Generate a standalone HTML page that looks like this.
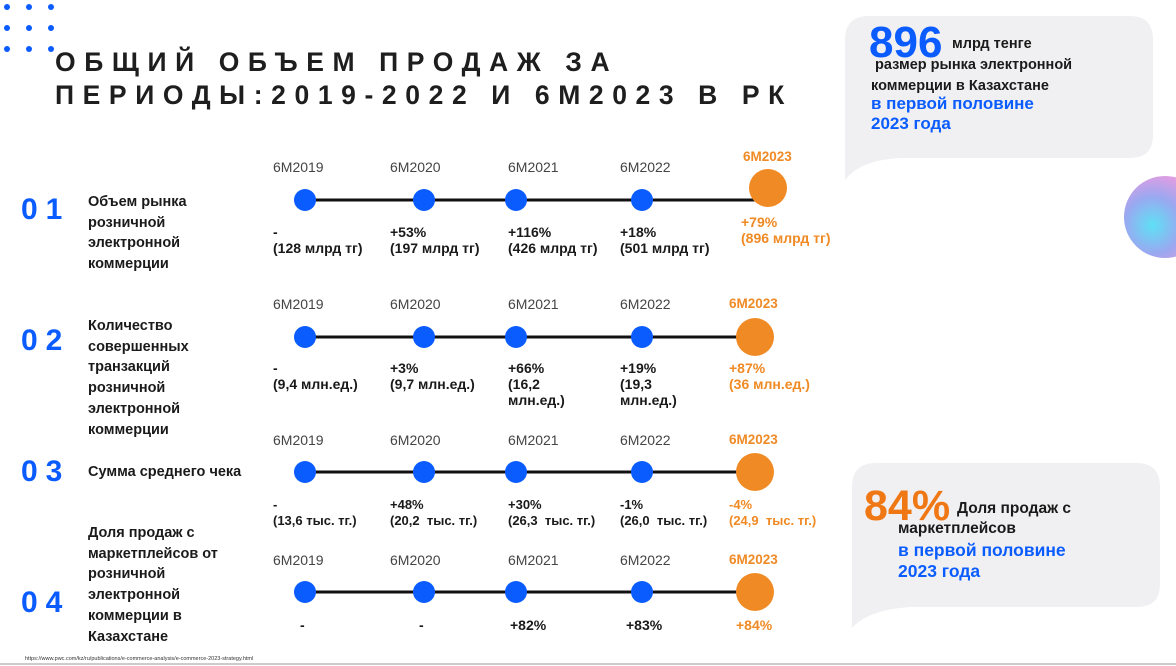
<!DOCTYPE html>
<html><head><meta charset="utf-8"><style>
*{margin:0;padding:0;box-sizing:border-box}
body{width:1176px;height:666px;background:#fff;position:relative;overflow:hidden;font-family:"Liberation Sans","DejaVu Sans",sans-serif}
.a{position:absolute;white-space:nowrap}
.b{font-weight:bold;color:#1a1a1a;font-size:14.5px}
.yr{font-size:14px;color:#444}
.yo{font-size:13.5px;color:#f08a24;font-weight:bold}
.v{font-size:14px;font-weight:bold;color:#1a1a1a;line-height:16px}
.vo{font-size:14px;font-weight:bold;color:#f08a24;line-height:16px}
.num{font-size:30px;font-weight:bold;color:#0a5cff;letter-spacing:8px}
.lbl{font-size:14.5px;font-weight:bold;color:#1a1a1a;line-height:20.7px}
.dot{position:absolute;width:6px;height:6px;border-radius:50%;background:#0a5cff}
</style></head><body>
<div class="dot" style="left:4px;top:4px"></div><div class="dot" style="left:26px;top:4px"></div><div class="dot" style="left:48px;top:4px"></div>
<div class="dot" style="left:4px;top:25px"></div><div class="dot" style="left:26px;top:25px"></div><div class="dot" style="left:48px;top:25px"></div>
<div class="dot" style="left:4px;top:46px"></div><div class="dot" style="left:26px;top:46px"></div><div class="dot" style="left:48px;top:46px"></div>
<div class="a" style="left:55px;top:46px;font-size:26.5px;font-weight:bold;letter-spacing:8.6px;line-height:33px;color:#1e1e1e">ОБЩИЙ ОБЪЕМ ПРОДАЖ ЗА<br>ПЕРИОДЫ:2019-2022 И 6М2023 В РК</div>

<svg class="a" style="left:0;top:0" width="1176" height="666">
<path d="M845 40 Q845 16 869 16 L1130 16 Q1153 16 1153 40 L1153 135 Q1153 158 1130 158 L900 158 Q860 160 845 180 Z" fill="#f0f0f2"/>
<path d="M852 487 Q852 463 876 463 L1137 463 Q1160 463 1160 487 L1160 584 Q1160 607 1137 607 L910 607 Q868 610 852 628 Z" fill="#f0f0f2"/>
<defs><radialGradient id="g" cx="0.35" cy="0.6" r="0.7"><stop offset="0" stop-color="#5fe0f5"/><stop offset="0.5" stop-color="#9aa8f0"/><stop offset="1" stop-color="#f29adf"/></radialGradient></defs>
<circle cx="1165" cy="217" r="41" fill="url(#g)"/>
<line x1="0" y1="664" x2="1176" y2="664" stroke="#ccc" stroke-width="2"/>
<g stroke="#111" stroke-width="3">
<line x1="305" y1="200" x2="760" y2="200"/><line x1="305" y1="337" x2="745" y2="337"/>
<line x1="305" y1="472" x2="745" y2="472"/><line x1="305" y1="592" x2="745" y2="592"/></g>
<g fill="#0a5cff">
<circle cx="305" cy="200" r="11"/><circle cx="424" cy="200" r="11"/><circle cx="516" cy="200" r="11"/><circle cx="642" cy="200" r="11"/>
<circle cx="305" cy="337" r="11"/><circle cx="424" cy="337" r="11"/><circle cx="516" cy="337" r="11"/><circle cx="642" cy="337" r="11"/>
<circle cx="305" cy="472" r="11"/><circle cx="424" cy="472" r="11"/><circle cx="516" cy="472" r="11"/><circle cx="642" cy="472" r="11"/>
<circle cx="305" cy="592" r="11"/><circle cx="424" cy="592" r="11"/><circle cx="516" cy="592" r="11"/><circle cx="642" cy="592" r="11"/></g>
<g fill="#f08a24"><circle cx="768" cy="188" r="19"/><circle cx="755" cy="337" r="19"/><circle cx="755" cy="472" r="19"/><circle cx="755" cy="592" r="19"/></g>
</svg>

<div class="a" style="left:869px;top:18px;font-size:44px;font-weight:bold;color:#0a5cff">896</div>
<div class="a b" style="left:952px;top:36px">млрд тенге</div>
<div class="a b" style="left:871px;top:55px;line-height:21px">&nbsp;размер рынка электронной<br>коммерции в Казахстане</div>
<div class="a" style="left:871px;top:94px;font-size:17px;font-weight:bold;color:#0a5cff;line-height:20px">в первой половине<br>2023 года</div>

<div class="a" style="left:864px;top:482px;font-size:43px;font-weight:bold;color:#f07814">84%</div>
<div class="a b" style="left:957px;top:500px;font-size:15.5px">Доля продаж с</div>
<div class="a b" style="left:898px;top:520px;font-size:15.5px">маркетплейсов</div>
<div class="a" style="left:898px;top:540px;font-size:17.5px;font-weight:bold;color:#0a5cff;line-height:21px">в первой половине<br>2023 года</div>

<div class="a num" style="left:21px;top:193px">01</div>
<div class="a num" style="left:21px;top:324px">02</div>
<div class="a num" style="left:21px;top:455px">03</div>
<div class="a num" style="left:21px;top:586px">04</div>
<div class="a lbl" style="left:88px;top:192px">Объем рынка<br>розничной<br>электронной<br>коммерции</div>
<div class="a lbl" style="left:88px;top:316px">Количество<br>совершенных<br>транзакций<br>розничной<br>электронной<br>коммерции</div>
<div class="a lbl" style="left:88px;top:462px">Сумма среднего чека</div>
<div class="a lbl" style="left:88px;top:523px">Доля продаж с<br>маркетплейсов от<br>розничной<br>электронной<br>коммерции в<br>Казахстане</div>

<div class="a yr" style="left:273px;top:159px">6M2019</div><div class="a yr" style="left:390px;top:159px">6M2020</div><div class="a yr" style="left:508px;top:159px">6M2021</div><div class="a yr" style="left:620px;top:159px">6M2022</div><div class="a yo" style="left:743px;top:149px">6M2023</div>
<div class="a v" style="left:273px;top:224px">-<br>(128 млрд тг)</div><div class="a v" style="left:390px;top:224px">+53%<br>(197 млрд тг)</div><div class="a v" style="left:508px;top:224px">+116%<br>(426 млрд тг)</div><div class="a v" style="left:620px;top:224px">+18%<br>(501 млрд тг)</div><div class="a vo" style="left:741px;top:214px">+79%<br>(896 млрд тг)</div>

<div class="a yr" style="left:273px;top:296px">6M2019</div><div class="a yr" style="left:390px;top:296px">6M2020</div><div class="a yr" style="left:508px;top:296px">6M2021</div><div class="a yr" style="left:620px;top:296px">6M2022</div><div class="a yo" style="left:729px;top:296px">6M2023</div>
<div class="a v" style="left:273px;top:360px">-<br>(9,4 млн.ед.)</div><div class="a v" style="left:390px;top:360px">+3%<br>(9,7 млн.ед.)</div><div class="a v" style="left:508px;top:360px">+66%<br>(16,2<br>млн.ед.)</div><div class="a v" style="left:620px;top:360px">+19%<br>(19,3<br>млн.ед.)</div><div class="a vo" style="left:729px;top:360px">+87%<br>(36 млн.ед.)</div>

<div class="a yr" style="left:273px;top:432px">6M2019</div><div class="a yr" style="left:390px;top:432px">6M2020</div><div class="a yr" style="left:508px;top:432px">6M2021</div><div class="a yr" style="left:620px;top:432px">6M2022</div><div class="a yo" style="left:729px;top:432px">6M2023</div>
<div class="a v" style="left:273px;top:497px;font-size:13px">-<br>(13,6 тыс. тг.)</div><div class="a v" style="left:390px;top:497px;font-size:13px">+48%<br>(20,2&nbsp; тыс. тг.)</div><div class="a v" style="left:508px;top:497px;font-size:13px">+30%<br>(26,3&nbsp; тыс. тг.)</div><div class="a v" style="left:620px;top:497px;font-size:13px">-1%<br>(26,0&nbsp; тыс. тг.)</div><div class="a vo" style="left:729px;top:497px;font-size:13px">-4%<br>(24,9&nbsp; тыс. тг.)</div>

<div class="a yr" style="left:273px;top:552px">6M2019</div><div class="a yr" style="left:390px;top:552px">6M2020</div><div class="a yr" style="left:508px;top:552px">6M2021</div><div class="a yr" style="left:620px;top:552px">6M2022</div><div class="a yo" style="left:729px;top:552px">6M2023</div>
<div class="a v" style="left:300px;top:617px">-</div><div class="a v" style="left:419px;top:617px">-</div><div class="a v" style="left:510px;top:617px">+82%</div><div class="a v" style="left:626px;top:617px">+83%</div><div class="a vo" style="left:736px;top:617px">+84%</div>

<div class="a" style="left:25px;top:656px;font-size:5.5px;color:#333">https://www.pwc.com/kz/ru/publications/e-commerce-analysis/e-commerce-2023-strategy.html</div>
</body></html>
